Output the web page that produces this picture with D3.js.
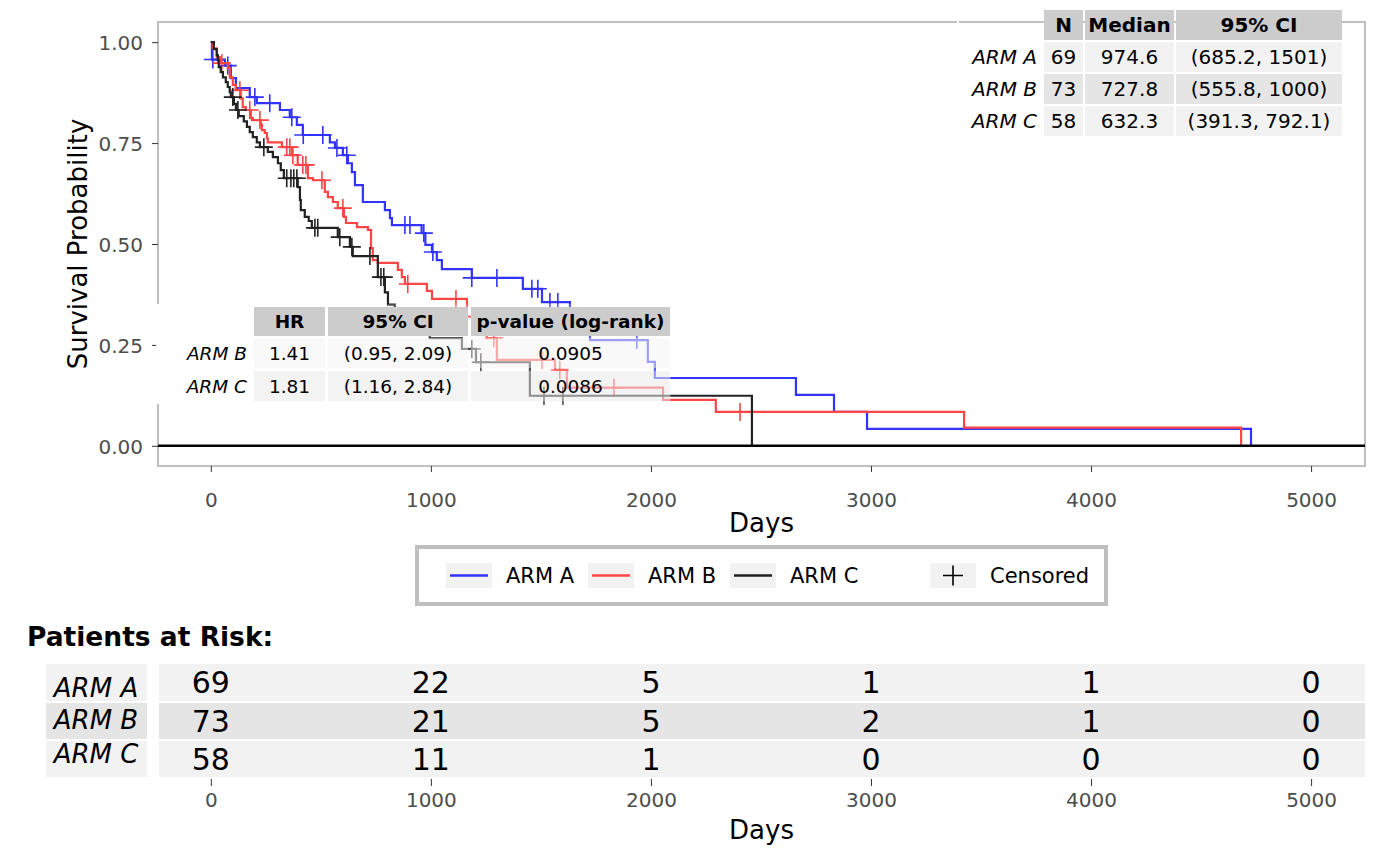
<!DOCTYPE html>
<html>
<head>
<meta charset="utf-8">
<script src="https://cdn.jsdelivr.net/npm/d3@7/dist/d3.min.js"></script>
<style>
  body { margin: 0; background: #fff; }
  svg { font-family: "DejaVu Sans", sans-serif; }
</style>
</head>
<body>
<svg id="chart" width="1400" height="866"></svg>
<script>
// ---- data ----
const arms = ["ARM A", "ARM B", "ARM C"];
const armColors = ["#3333FF", "#FF4545", "#222222"];

const armATimes = [5, 64, 91, 114, 177, 209, 314, 359, 391, 418, 541, 564, 600, 623, 641, 655, 691, 791, 814, 823, 958, 975, 1005, 1027, 1050, 1186, 1418, 1505, 1632, 1723, 1986, 2018, 2659, 2832, 2982, 4727];
const armASurv = [0.957, 0.942, 0.911, 0.886, 0.864, 0.849, 0.832, 0.814, 0.795, 0.770, 0.752, 0.738, 0.720, 0.700, 0.678, 0.646, 0.604, 0.584, 0.564, 0.547, 0.527, 0.498, 0.480, 0.460, 0.438, 0.416, 0.389, 0.356, 0.310, 0.262, 0.208, 0.168, 0.126, 0.084, 0.042, 0];
const armACensor = [9, 77, 200, 268, 368, 420, 509, 573, 618, 882, 905, 968, 1009, 1186, 1300, 1459, 1486, 1541, 1577, 1936];

const armBTimes = [9, 27, 41, 77, 86, 100, 114, 136, 145, 159, 182, 191, 227, 232, 245, 255, 259, 323, 368, 395, 441, 464, 518, 532, 555, 577, 605, 614, 664, 714, 728, 736, 759, 850, 868, 882, 982, 1005, 1164, 1255, 1300, 1564, 1618, 2055, 2295, 3423, 4682];
const armBSurv = [0.985, 0.963, 0.948, 0.936, 0.913, 0.894, 0.881, 0.861, 0.839, 0.832, 0.812, 0.807, 0.795, 0.782, 0.775, 0.762, 0.752, 0.740, 0.720, 0.696, 0.663, 0.658, 0.629, 0.616, 0.604, 0.589, 0.567, 0.552, 0.542, 0.535, 0.490, 0.460, 0.453, 0.436, 0.418, 0.401, 0.384, 0.364, 0.320, 0.267, 0.213, 0.188, 0.144, 0.114, 0.084, 0.045, 0];
const armBCensor = [50, 132, 177, 223, 345, 359, 373, 418, 432, 505, 600, 895, 1114, 1286, 1505, 1586, 1832, 2405];

const armCTimes = [14, 27, 32, 36, 45, 55, 68, 77, 86, 91, 105, 114, 127, 150, 164, 177, 191, 209, 223, 259, 282, 305, 318, 332, 395, 405, 409, 427, 445, 459, 577, 632, 645, 759, 791, 805, 836, 995, 1141, 1205, 1450, 2459];
const armCSurv = [0.983, 0.968, 0.955, 0.938, 0.926, 0.913, 0.901, 0.889, 0.876, 0.864, 0.847, 0.832, 0.817, 0.804, 0.790, 0.777, 0.765, 0.752, 0.740, 0.728, 0.715, 0.700, 0.683, 0.663, 0.641, 0.609, 0.584, 0.567, 0.557, 0.540, 0.517, 0.493, 0.470, 0.418, 0.380, 0.350, 0.310, 0.267, 0.240, 0.207, 0.124, 0];
const armCCensor = [100, 123, 241, 345, 364, 377, 391, 473, 486, 586, 641, 723, 773, 786, 1186, 1227, 1514, 1600];

const xTicks = [0, 1000, 2000, 3000, 4000, 5000];
const yTicks = [0, 0.25, 0.5, 0.75, 1];

const riskArmA = [69, 22, 5, 1, 1, 0];
const riskArmB = [73, 21, 5, 2, 1, 0];
const riskArmC = [58, 11, 1, 0, 0, 0];

const sumHeader = ["N", "Median", "95% CI"];
const sumN = ["69", "73", "58"];
const sumMedian = ["974.6", "727.8", "632.3"];
const sumCI = ["(685.2, 1501)", "(555.8, 1000)", "(391.3, 792.1)"];

const hrHeader = ["HR", "95% CI", "p-value (log-rank)"];
const hrArms = ["ARM B", "ARM C"];
const hrValue = ["1.41", "1.81"];
const hrCI = ["(0.95, 2.09)", "(1.16, 2.84)"];
const hrPval = ["0.0905", "0.0086"];

// ---- layout ----
const svg = d3.select("#chart");
const panel = { left: 158, right: 1365, top: 22, bottom: 466 };
const x = d3.scaleLinear().domain([-240, 5245]).range([panel.left, panel.right]);
const y = d3.scaleLinear().domain([-0.05, 1.05]).range([panel.bottom, panel.top]);

const curves = [
  { times: armATimes, surv: armASurv, censor: armACensor },
  { times: armBTimes, surv: armBSurv, censor: armBCensor },
  { times: armCTimes, surv: armCSurv, censor: armCCensor }
];

function survAt(c, t) {
  let s = 1;
  c.times.forEach((tt, i) => { if (tt <= t) s = c.surv[i]; });
  return s;
}

// panel border
svg.append("rect")
  .attr("x", panel.left).attr("y", panel.top)
  .attr("width", panel.right - panel.left).attr("height", panel.bottom - panel.top)
  .attr("fill", "#fff").attr("stroke", "#bfbfbf").attr("stroke-width", 2);

// axes
const yAxis = svg.append("g")
  .attr("transform", `translate(${panel.left},0)`)
  .call(d3.axisLeft(y).tickValues(yTicks).tickFormat(d3.format(".2f")).tickSize(6).tickPadding(9));
yAxis.select(".domain").remove();
yAxis.selectAll("line").attr("stroke", "#333");
yAxis.selectAll("text").attr("font-size", 20).attr("fill", "#4d4d4d")
  .attr("font-family", "DejaVu Sans").attr("dy", "0.36em");

const xAxis = svg.append("g")
  .attr("transform", `translate(0,${panel.bottom})`)
  .call(d3.axisBottom(x).tickValues(xTicks).tickFormat(d3.format("d")).tickSize(6));
xAxis.select(".domain").remove();
xAxis.selectAll("line").attr("stroke", "#333");
xAxis.selectAll("text").attr("font-size", 20).attr("fill", "#4d4d4d")
  .attr("font-family", "DejaVu Sans").attr("dy", null).attr("y", 41);

svg.append("text").attr("x", (panel.left + panel.right) / 2).attr("y", 532)
  .attr("text-anchor", "middle").attr("font-size", 26).text("Days");
svg.append("text").attr("transform", `translate(87,${(panel.top + panel.bottom) / 2}) rotate(-90)`)
  .attr("text-anchor", "middle").attr("font-size", 26).text("Survival Probability");

// curves
const line = d3.line().x(d => x(d[0])).y(d => y(d[1])).curve(d3.curveStepAfter);
const plotG = svg.append("g");
curves.forEach((c, i) => {
  const pts = [[0, 1]].concat(c.times.map((t, j) => [t, c.surv[j]]));
  plotG.append("path").attr("d", line(pts)).attr("fill", "none")
    .attr("stroke", armColors[i]).attr("stroke-width", 2.2);
  const h = 9;
  plotG.selectAll(null).data(c.censor).enter().append("path")
    .attr("d", t => {
      const cx = x(t), cy = y(survAt(c, t));
      return `M${cx - h},${cy}H${cx + h}M${cx},${cy - h}V${cy + h}`;
    })
    .attr("stroke", armColors[i]).attr("stroke-width", 1.6).attr("fill", "none");
});

// zero line
svg.append("line").attr("x1", panel.left).attr("x2", panel.right)
  .attr("y1", y(0)).attr("y2", y(0)).attr("stroke", "#000").attr("stroke-width", 2.5);

// ---- summary table (top right) ----
function cellText(g, cx, cy, txt, size, opts = {}) {
  g.append("text").attr("x", cx).attr("y", cy).attr("dy", "0.36em")
    .attr("text-anchor", opts.anchor || "middle").attr("font-size", size)
    .attr("font-weight", opts.bold ? "bold" : null)
    .attr("font-style", opts.italic ? "italic" : null)
    .attr("fill", "#000").text(txt);
}

const sumG = svg.append("g");
sumG.append("rect").attr("x", 957).attr("y", 17).attr("width", 2).attr("height", 12).attr("fill", "#fff");
const sumCols = [[1044, 1083], [1085, 1174], [1176, 1342]];
const sumRowsY = [[10, 40], [42, 72], [74, 104], [106, 136]];
const sumFills = ["#cccccc", "#f2f2f2", "#e5e5e5", "#f2f2f2"];
const sumCells = [sumHeader].concat(arms.map((a, i) => [sumN[i], sumMedian[i], sumCI[i]]));
sumRowsY.forEach((r, ri) => {
  sumCols.forEach((c, ci) => {
    sumG.append("rect").attr("x", c[0]).attr("y", r[0])
      .attr("width", c[1] - c[0]).attr("height", r[1] - r[0]).attr("fill", sumFills[ri]);
    cellText(sumG, (c[0] + c[1]) / 2, (r[0] + r[1]) / 2, sumCells[ri][ci], 20, { bold: ri === 0 });
  });
  if (ri > 0) cellText(sumG, 1037, (r[0] + r[1]) / 2, arms[ri - 1], 20, { anchor: "end", italic: true });
});

// ---- hazard ratio table (overlay) ----
const hrG = svg.append("g");
hrG.append("rect").attr("x", 156).attr("y", 304).attr("width", 97).attr("height", 100).attr("fill", "#fff");
hrG.append("rect").attr("x", 253).attr("y", 304).attr("width", 418).attr("height", 100)
  .attr("fill", "#fff").attr("opacity", 0.2);
const hrCols = [[254, 325], [328, 468], [471, 670]];
const hrRowsY = [[307, 336], [338, 368], [371, 401]];
const hrFills = ["#cccccc", "#f2f2f2", "#e5e5e5"];
const hrCells = [hrHeader].concat(hrArms.map((a, i) => [hrValue[i], hrCI[i], hrPval[i]]));
hrRowsY.forEach((r, ri) => {
  hrCols.forEach((c, ci) => {
    hrG.append("rect").attr("x", c[0]).attr("y", r[0])
      .attr("width", c[1] - c[0]).attr("height", r[1] - r[0])
      .attr("fill", hrFills[ri]).attr("opacity", ri === 0 ? 1 : 0.45);
    cellText(hrG, (c[0] + c[1]) / 2, (r[0] + r[1]) / 2, hrCells[ri][ci], 18.5, { bold: ri === 0 });
  });
  if (ri > 0) cellText(hrG, 247, (r[0] + r[1]) / 2, hrArms[ri - 1], 18.5, { anchor: "end", italic: true });
});

// ---- legend ----
const leg = svg.append("g");
leg.append("rect").attr("x", 417).attr("y", 547).attr("width", 689).attr("height", 57)
  .attr("fill", "#fff").attr("stroke", "#bfbfbf").attr("stroke-width", 4);
const legKeyX = [446, 588, 730];
arms.forEach((a, i) => {
  leg.append("rect").attr("x", legKeyX[i]).attr("y", 563).attr("width", 46).attr("height", 25).attr("fill", "#f2f2f2");
  leg.append("line").attr("x1", legKeyX[i] + 4).attr("x2", legKeyX[i] + 42)
    .attr("y1", 575.5).attr("y2", 575.5).attr("stroke", armColors[i]).attr("stroke-width", 2.5);
  leg.append("text").attr("x", legKeyX[i] + 60).attr("y", 583).attr("font-size", 21).text(a);
});
leg.append("rect").attr("x", 930).attr("y", 563).attr("width", 46).attr("height", 25).attr("fill", "#f2f2f2");
leg.append("path").attr("d", "M943,575.5H963M953,565.5V585.5").attr("stroke", "#000").attr("stroke-width", 1.6);
leg.append("text").attr("x", 990).attr("y", 583).attr("font-size", 21).text("Censored");

// ---- patients at risk ----
svg.append("text").attr("x", 27).attr("y", 646).attr("font-size", 26.5).attr("font-weight", "bold")
  .text("Patients at Risk:");
const riskRows = [riskArmA, riskArmB, riskArmC];
const riskRowY = [[664, 701], [703, 739], [741, 777]];
const riskFills = ["#f2f2f2", "#e5e5e5", "#f2f2f2"];
const riskLabelBase = [697, 729, 763];
const riskNumBase = [693, 732, 770];
const riskG = svg.append("g");
riskRows.forEach((vals, i) => {
  const r = riskRowY[i];
  riskG.append("rect").attr("x", 46).attr("y", r[0]).attr("width", 101).attr("height", r[1] - r[0]).attr("fill", riskFills[i]);
  riskG.append("rect").attr("x", 159).attr("y", r[0]).attr("width", panel.right - 159).attr("height", r[1] - r[0]).attr("fill", riskFills[i]);
  riskG.append("text").attr("x", 96).attr("y", riskLabelBase[i]).attr("text-anchor", "middle")
    .attr("font-size", 26).attr("font-style", "italic").text(arms[i]);
  riskG.selectAll(null).data(vals).enter().append("text")
    .attr("x", (d, j) => x(xTicks[j])).attr("y", riskNumBase[i])
    .attr("text-anchor", "middle").attr("font-size", 30).text(d => d);
});
const riskAxis = svg.append("g").attr("transform", "translate(0,779)")
  .call(d3.axisBottom(x).tickValues(xTicks).tickFormat(d3.format("d")).tickSize(7));
riskAxis.select(".domain").remove();
riskAxis.selectAll("line").attr("stroke", "#333");
riskAxis.selectAll("text").attr("font-size", 20).attr("fill", "#4d4d4d")
  .attr("font-family", "DejaVu Sans").attr("dy", null).attr("y", 28);
svg.append("text").attr("x", (panel.left + panel.right) / 2).attr("y", 839)
  .attr("text-anchor", "middle").attr("font-size", 26).text("Days");
</script>
</body>
</html>
